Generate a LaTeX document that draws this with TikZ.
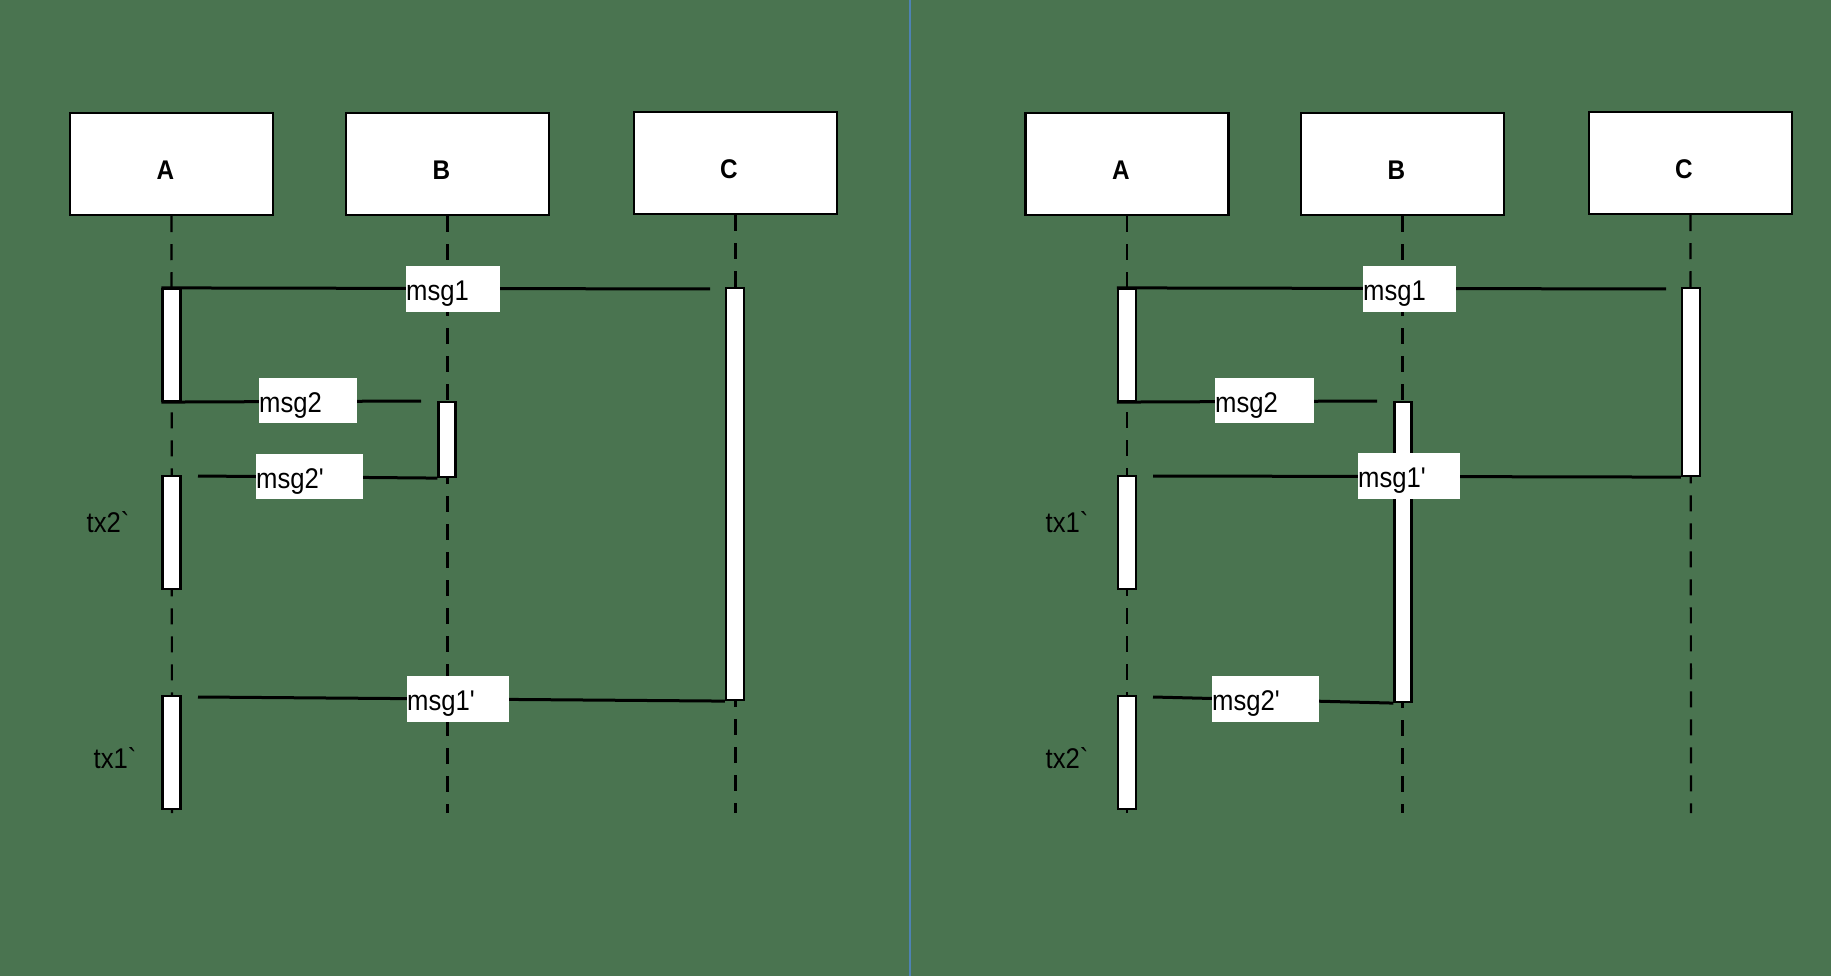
\documentclass[tikz,border=0pt]{standalone}
\usepackage{fontspec}
\usepackage{graphicx}
\setmainfont{Liberation Sans}[Ligatures=TeXOff]
\definecolor{bgc}{HTML}{4A7450}
\definecolor{divc}{HTML}{4E82B4}
\newcommand\cond[1]{\scalebox{0.9}[1]{#1}}
\begin{document}
\begin{tikzpicture}[x=1pt,y=-1pt,
  partbox/.style={draw=black,fill=white,line width=2.5pt,minimum width=203pt,minimum height=102pt,inner sep=0pt},
  parttext/.style={font=\fontsize{27}{30}\selectfont\bfseries,inner sep=0pt},
  life/.style={draw=black,line width=2.2pt,dash pattern=on 16pt off 12pt},
  bar/.style={draw=black,fill=white,line width=2.2pt,minimum width=18pt,inner sep=0pt},
  msgline/.style={draw=black,line width=3pt},
  lblbox/.style={fill=white,inner sep=0pt,anchor=north west,minimum height=46pt},
  lbltext/.style={inner sep=0pt,anchor=base west,font=\fontsize{28.5}{30}\selectfont},
  txlbl/.style={font=\fontsize{28.5}{30}\selectfont,inner sep=0pt}]
\fill[bgc] (0,0) rectangle (1831,976);
\useasboundingbox (0,0) rectangle (1831,976);
\draw[divc,line width=2pt] (910,0) -- (910,976);

% ---------------- left panel ----------------
\node[partbox] (LA) at (171.5,164) {};
\node[partbox] (LB) at (447.5,164) {};
\node[partbox] (LC) at (735.5,163) {};
\node[parttext] (LAt) at (165.5,170) {\cond{A}};
\node[parttext] (LBt) at (441.5,170) {\cond{B}};
\node[parttext] (LCt) at (729,169) {\cond{C}};
\coordinate (LAe) at (172,813);
\coordinate (LBe) at (447.5,813);
\coordinate (LCe) at (735.5,813);
\draw[life] (LA.south) -- (LAe);
\draw[life] (LB.south) -- (LBe);
\draw[life] (LC.south) -- (LCe);

\node[bar,minimum height=112pt] (LA1) at (171.5,345) {};
\node[bar,minimum height=113pt] (LA2) at (171.5,532.5) {};
\node[bar,minimum height=113pt] (LA3) at (171.5,752.5) {};
\node[bar,minimum height=75pt,minimum width=17pt] (LB1) at (447,439.5) {};
\node[bar,minimum height=412pt] (LC1) at (735,494) {};

\coordinate (Lm1e) at (710,289);
\coordinate (Lm2e) at (421,401);
\coordinate (Lm2ps) at (198,476);
\coordinate (Lm1ps) at (198,697);
\draw[msgline] (LA1.north west) -- (Lm1e);
\draw[msgline] (LA1.south west) -- (Lm2e);
\draw[msgline] (Lm2ps) -- (LB1.south west);
\draw[msgline] (Lm1ps) -- (LC1.south west);

\node[lblbox,minimum width=94pt] (Ll1) at (406,266) {};
\node[lblbox,minimum width=98pt,minimum height=45pt] (Ll2) at (259,378) {};
\node[lblbox,minimum width=107pt,minimum height=45pt] (Ll2p) at (256,454) {};
\node[lblbox,minimum width=102pt] (Ll1p) at (407,676) {};
\node[lbltext] (Ll1t) at ([yshift=12pt]Ll1.south west) {\cond{msg1}};
\node[lbltext] (Ll2t) at ([yshift=11pt]Ll2.south west) {\cond{msg2}};
\node[lbltext] (Ll2pt) at ([yshift=11pt]Ll2p.south west) {\cond{msg2'}};
\node[lbltext] (Ll1pt) at ([yshift=12pt]Ll1p.south west) {\cond{msg1'}};

\node[txlbl] (Ltx2) at (108,522) {\cond{tx2`}};
\node[txlbl] (Ltx1) at (115,758) {\cond{tx1`}};

% ---------------- right panel ----------------
\node[partbox] (RA) at (1127,164) {};
\node[partbox] (RB) at (1402.5,164) {};
\node[partbox] (RC) at (1690.5,163) {};
\node[parttext] (RAt) at (1121,170) {\cond{A}};
\node[parttext] (RBt) at (1396.5,170) {\cond{B}};
\node[parttext] (RCt) at (1684,169) {\cond{C}};
\coordinate (RAe) at (1127,813);
\coordinate (RBe) at (1402.5,813);
\coordinate (RCe) at (1691,813);
\draw[life] (RA.south) -- (RAe);
\draw[life] (RB.south) -- (RBe);
\draw[life] (RC.south) -- (RCe);

\node[bar,minimum height=112pt] (RA1) at (1127,345) {};
\node[bar,minimum height=113pt] (RA2) at (1127,532.5) {};
\node[bar,minimum height=113pt] (RA3) at (1127,752.5) {};
\node[bar,minimum height=300pt,minimum width=17pt] (RB1) at (1403,552) {};
\node[bar,minimum height=188pt] (RC1) at (1691,382) {};

\coordinate (Rm1e) at (1666,289);
\coordinate (Rm2e) at (1377,401);
\coordinate (Rm1ps) at (1153,476);
\coordinate (Rm2ps) at (1153,697);
\draw[msgline] (RA1.north west) -- (Rm1e);
\draw[msgline] (RA1.south west) -- (Rm2e);
\draw[msgline] (Rm1ps) -- (RC1.south west);
\draw[msgline] (Rm2ps) -- (RB1.south west);

\node[lblbox,minimum width=93pt] (Rl1) at (1363,266) {};
\node[lblbox,minimum width=99pt,minimum height=45pt] (Rl2) at (1215,378) {};
\node[lblbox,minimum width=102pt] (Rl1p) at (1358,453) {};
\node[lblbox,minimum width=107pt] (Rl2p) at (1212,676) {};
\node[lbltext] (Rl1t) at ([yshift=12pt]Rl1.south west) {\cond{msg1}};
\node[lbltext] (Rl2t) at ([yshift=11pt]Rl2.south west) {\cond{msg2}};
\node[lbltext] (Rl1pt) at ([yshift=12pt]Rl1p.south west) {\cond{msg1'}};
\node[lbltext] (Rl2pt) at ([yshift=12pt]Rl2p.south west) {\cond{msg2'}};

\node[txlbl] (Rtx1) at (1067,522) {\cond{tx1`}};
\node[txlbl] (Rtx2) at (1067,758) {\cond{tx2`}};
\end{tikzpicture}
\end{document}
